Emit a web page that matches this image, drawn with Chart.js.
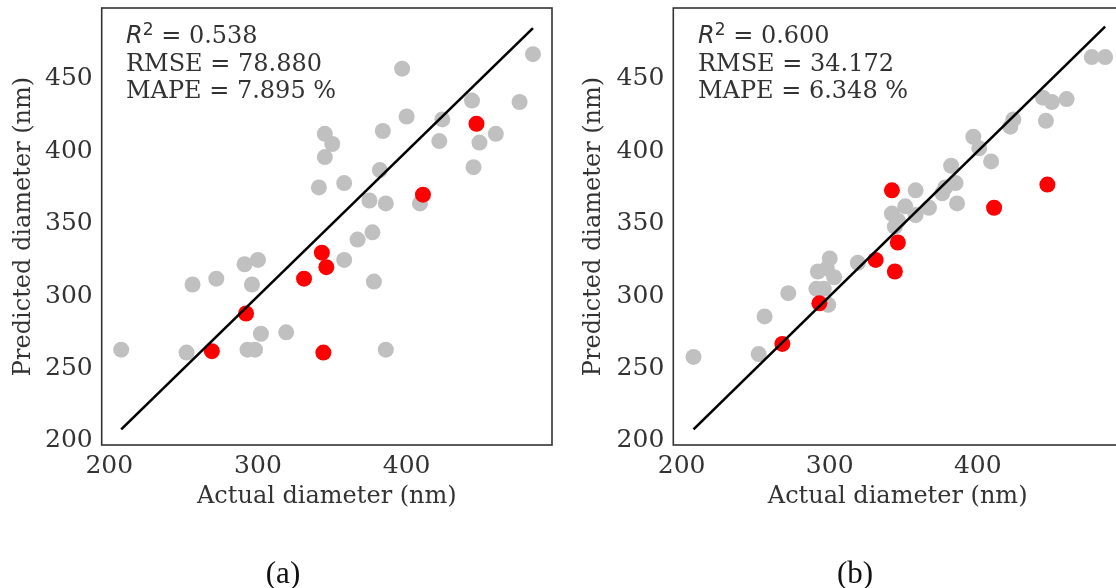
<!DOCTYPE html>
<html><head><meta charset="utf-8">
<script src="https://cdn.jsdelivr.net/npm/chart.js@4.4.0/dist/chart.umd.min.js"></script>
<style>
html,body{margin:0;padding:0;background:#fff;overflow:hidden;width:1116px;height:588px;}
#wrap{position:relative;width:1116px;height:588px;overflow:hidden;background:#fff;}
canvas{position:absolute;top:0;}
#cA{left:0}
#cB{left:560px}
.ann{position:absolute;font-family:'DejaVu Serif';font-size:24px;line-height:27.7px;color:#333;white-space:nowrap;}
.ann i{font-family:'DejaVu Sans';font-style:oblique;}
.ann sup{font-family:'DejaVu Sans';font-size:17px;line-height:0;vertical-align:8px;}
.cap{position:absolute;font-family:'Liberation Serif';font-size:31px;line-height:31px;color:#111;transform:translateX(-50%);top:557px;}
</style>
</head>
<body>
<div id="wrap">
<canvas id="cA" width="560" height="588"></canvas>
<canvas id="cB" width="570" height="588"></canvas>
<div class="ann" id="annA" style="left:126px;top:22px"></div>
<div class="ann" id="annB" style="left:698px;top:22px"></div>
<div class="cap" style="left:283px">(a)</div>
<div class="cap" style="left:855px">(b)</div>
</div>
<script>
// ---- tick labels ----
const xTicks = [200, 300, 400];
const yTicks = [200, 250, 300, 350, 400, 450];

// ---- panel (a) ----
const aGrayActual = [208, 252, 256, 272, 291, 300, 296, 302, 319, 293, 298, 358, 367, 377, 378, 386, 345, 350, 345, 384, 400, 424, 444, 449, 422, 445, 382, 358, 341, 375, 386, 409, 397, 485, 476, 460];
const aGrayPred   = [263, 261, 308, 312, 322, 325, 308, 274, 275, 263, 263, 325, 339, 344, 310, 263, 412, 405, 396, 414, 424, 422, 435, 406, 407, 389, 387, 378, 375, 366, 364, 364, 457, 467, 434, 412];
const aRedActual  = [269, 292, 331, 343, 346, 344, 447, 411];
const aRedPred    = [262, 288, 312, 330, 320, 261, 419, 370];
const aStats = ['0.538', '78.880', '7.895'];

// ---- panel (b) ----
const bGrayActual = [208, 252, 256, 272, 300, 292, 298, 303, 291, 296, 299, 319, 358, 342, 351, 346, 358, 367, 344, 382, 378, 385, 376, 386, 397, 401, 409, 424, 422, 477, 486, 444, 450, 460, 446];
const bGrayPred   = [258, 260, 286, 302, 326, 317, 319, 313, 305, 305, 294, 323, 373, 357, 362, 352, 356, 361, 348, 390, 375, 378, 371, 364, 410, 402, 393, 422, 417, 465, 465, 437, 434, 436, 421];
const bRedActual  = [268, 293, 331, 346, 344, 342, 411, 447];
const bRedPred    = [267, 295, 325, 337, 317, 373, 361, 377];
const bStats = ['0.600', '34.172', '6.348'];

function fillAnn(id, s) {
  document.getElementById(id).innerHTML =
    '<div><i>R</i><sup>2</sup> = ' + s[0] + '</div>' +
    '<div>RMSE = ' + s[1] + '</div>' +
    '<div>MAPE = ' + s[2] + ' %</div>';
}
fillAnn('annA', aStats);
fillAnn('annB', bStats);

const boxPlugin = {
  id: 'box',
  afterDatasetsDraw(chart) {
    const {ctx, chartArea: a} = chart;
    ctx.save();
    ctx.strokeStyle = '#333';
    ctx.lineWidth = 1.6;
    ctx.strokeRect(a.left, a.top, a.right - a.left, a.bottom - a.top);
    ctx.restore();
  }
};

const serif = 'DejaVu Serif';
const txt = '#333';

function makeChart(id, gx, gy, rx, ry, geo) {
  const all = gx.concat(rx);
  const lo = Math.min(...all), hi = Math.max(...all);
  return new Chart(document.getElementById(id), {
    type: 'scatter',
    data: {
      datasets: [
        {type: 'line', data: [{x: lo, y: lo}, {x: hi, y: hi}], borderColor: '#000', borderWidth: 2.6,
         pointRadius: 0, fill: false, tension: 0},
        {data: rx.map((v, i) => ({x: v, y: ry[i]})), backgroundColor: '#ff0000', borderWidth: 0, pointRadius: 8},
        {data: gx.map((v, i) => ({x: v, y: gy[i]})), backgroundColor: '#c0c0c0', borderWidth: 0, pointRadius: 8}
      ]
    },
    options: {
      responsive: false, animation: false, events: [],
      layout: {padding: {top: 7, right: geo.padRight, left: 0, bottom: 0}},
      plugins: {legend: {display: false}, tooltip: {enabled: false}},
      scales: {
        x: {
          type: 'linear', min: geo.xmin, max: geo.xmax,
          grid: {display: false, drawTicks: false}, border: {display: false},
          afterBuildTicks: s => { s.ticks = xTicks.map(v => ({value: v})); },
          afterFit: s => { s.height = 143; s.paddingLeft = 0; s.paddingRight = 0; },
          ticks: {font: {family: serif, size: 25, lineHeight: 1}, color: txt, padding: 8.5, maxRotation: 0, autoSkip: false},
          title: {display: true, text: 'Actual diameter (nm)', font: {family: serif, size: 24, lineHeight: 1.2},
                  color: txt, padding: {top: 0, bottom: 76.6}}
        },
        y: {
          type: 'linear', min: 197.2, max: 498.9,
          grid: {display: false, drawTicks: false}, border: {display: false},
          afterBuildTicks: s => { s.ticks = yTicks.map(v => ({value: v})); },
          afterFit: s => { s.width = geo.yWidth; s.paddingTop = 0; s.paddingBottom = 0; },
          ticks: {font: {family: serif, size: 25, lineHeight: 1}, color: txt, padding: 9, autoSkip: false},
          title: {display: true, text: 'Predicted diameter (nm)', font: {family: serif, size: 24, lineHeight: 1.2},
                  color: txt, padding: {top: geo.yTitlePad, bottom: 0}}
        }
      }
    },
    plugins: [boxPlugin]
  });
}

makeChart('cA', aGrayActual, aGrayPred, aRedActual, aRedPred,
  {xmin: 194.9, xmax: 497.8, yWidth: 101.7, padRight: 7.3, yTitlePad: 9.6});
makeChart('cB', bGrayActual, bGrayPred, bRedActual, bRedPred,
  {xmin: 194.35, xmax: 497.4, yWidth: 113.3, padRight: 6, yTitlePad: 19.6});
</script>
</body></html>
